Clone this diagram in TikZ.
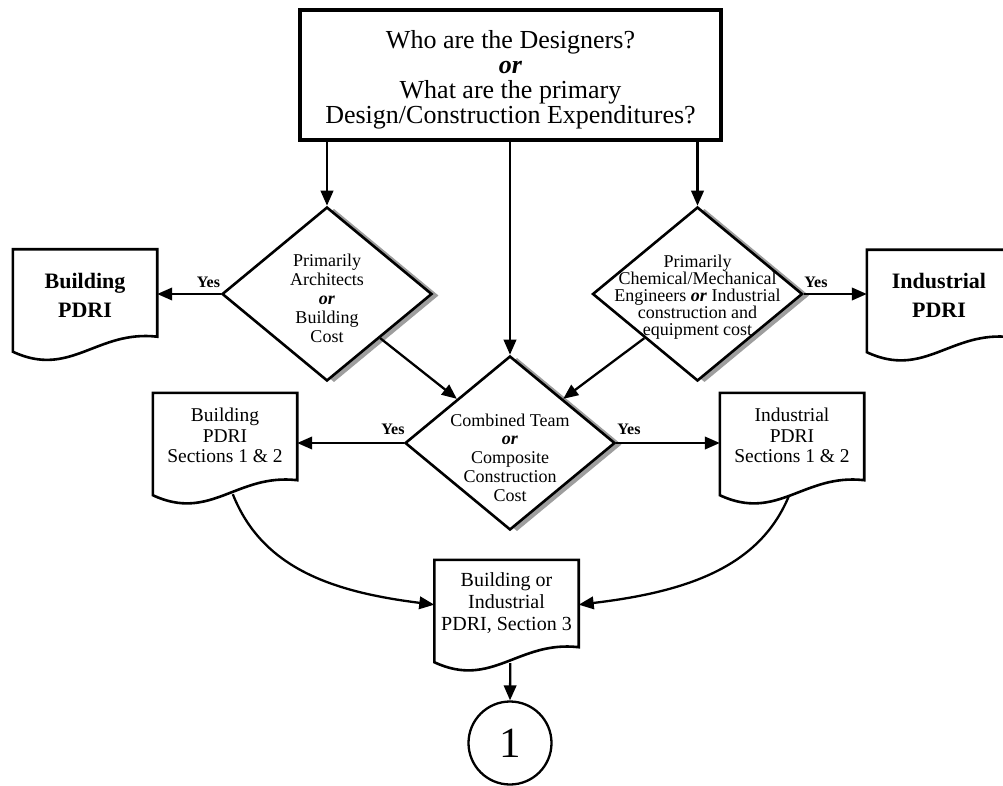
\documentclass[tikz,border=0pt]{standalone}
\usepackage{fontspec}
\setmainfont{Liberation Serif}
\usetikzlibrary{arrows.meta,shapes.geometric,shadows,calc}

\tikzset{
  flowline/.style={line width=2.3pt,-{Triangle[length=15pt,width=12.5pt]}},
  questionbox/.style={draw,line width=3.8pt,minimum width=421.5pt,minimum height=130.5pt,inner sep=0pt},
  questiontext/.style={align=center,inner sep=0pt,font=\fontsize{26}{25}\selectfont},
  decision/.style={diamond,draw,line width=2.6pt,fill=white,minimum width=210pt,minimum height=174pt,inner sep=0pt,
    drop shadow={shadow xshift=7pt,shadow yshift=-1.5pt,fill=black!38,opacity=1}},
  dtext/.style={align=center,inner sep=0pt,font=\fontsize{18}{19}\selectfont},
  docframe/.style={minimum width=144pt,minimum height=102pt,inner sep=0pt},
  doctext/.style={align=center,inner sep=0pt,font=\fontsize{19.5}{20.5}\selectfont},
  docbold/.style={align=center,inner sep=0pt,font=\bfseries\fontsize{22}{29}\selectfont},
  yeslabel/.style={font=\bfseries\fontsize{16}{16}\selectfont,inner sep=0pt},
  docline/.style={line width=2.6pt,line join=miter},
  connector/.style={circle,draw,line width=2.3pt,minimum size=83pt,inner sep=0pt,font=\fontsize{43}{43}\selectfont}
}

% bold italic "or" used between alternatives
\newcommand\orword{\textbf{\textit{or}}}

% document symbol: straight top and sides, wavy bottom edge
\newcommand\docoutline[1]{%
  \draw[docline] (#1.north west) -- (#1.south west)
    .. controls ($(#1.south west)+(57.6,27)$) and ($(#1.south west)+(84,-22)$)
    .. ($(#1.south east)+(0,-15)$) -- (#1.north east) -- cycle;}

\begin{document}
\begin{tikzpicture}[x=1pt,y=-1pt]
\useasboundingbox (0,0) rectangle (1003,786);
\clip (0,0) rectangle (1003,786);

% top question
\node[questionbox] (top) at (510.5,75) {};
\node[questiontext] (qtext) at (510.5,79.5)
  {Who are the Designers?\\ \orword\\ What are the primary\\ Design/Construction Expenditures?};

% decisions
\node[decision] (d1) at (327,294) {};
\node[decision] (d2) at (697.5,294) {};
\node[decision] (d3) at (510,443) {};
\node[dtext] (t1) at (327,298) {Primarily\\Architects\\\orword\\Building\\Cost};
\node[dtext,font=\fontsize{18}{17}\selectfont] (t2) at (697.5,297)
  {Primarily\\Chemical/Mechanical\\Engineers \orword{} Industrial\\construction and\\equipment cost};
\node[dtext,font=\fontsize{18}{18.7}\selectfont] (t3) at (510,457.5)
  {Combined Team\\\orword\\Composite\\Construction\\Cost};

% documents
\node[docframe] (bpf) at (85,300.5) {};
\node[docbold] (bp) at (85,295) {Building\\PDRI};
\node[docframe] (ipf) at (939,301) {};
\node[docbold] (ip) at (939,295) {Industrial\\PDRI};
\node[docframe] (bsf) at (225,444) {};
\node[doctext] (bs) at (225,435.5) {Building\\PDRI\\Sections 1 \& 2};
\node[docframe] (isf) at (792,444) {};
\node[doctext] (is) at (792,435.5) {Industrial\\PDRI\\Sections 1 \& 2};
\node[docframe] (s3f) at (506.5,611) {};
\node[doctext,font=\fontsize{20}{22}\selectfont] (s3) at (506.5,603) {Building or\\Industrial\\PDRI, Section 3};
\docoutline{bpf}
\docoutline{ipf}
\docoutline{bsf}
\docoutline{isf}
\docoutline{s3f}

% off-page connector
\node[connector] (c1) at (510,743) {1};

% Yes labels
\node[yeslabel] (y1) at (208.5,282) {Yes};
\node[yeslabel] (y2) at (816,282) {Yes};
\node[yeslabel] (y3) at (393,429) {Yes};
\node[yeslabel] (y4) at (629,429) {Yes};

% connectors
\draw[flowline] (top.south -| d1.north) -- (d1.north);
\draw[flowline] (top.south -| d3.north) -- (d3.north);
\draw[flowline] (top.south -| d2.north) -- (d2.north);
\draw[flowline] (d1.west) -- (d1.west -| bpf.east);
\draw[flowline] (d2.east) -- (d2.east -| ipf.west);
\draw[flowline] (d3.west) -- (d3.west -| bsf.east);
\draw[flowline] (d3.east) -- (d3.east -| isf.west);
\draw[flowline] ($(d1.east)!0.5!(d1.south)$) -- ($(d3.north)!0.5!(d3.west)$);
\draw[flowline] ($(d2.west)!0.5!(d2.south)$) -- ($(d3.north)!0.5!(d3.east)$);

\coordinate (bsout) at ($(bsf.south west)+(80,-1)$);
\coordinate (isout) at ($(isf.south west)+(69,1)$);
\coordinate (s3out) at ($(s3f.south west)+(76,1)$);
\draw[flowline] (bsout) .. controls ($(bsout)+(29,73)$) and ($(s3f.175)+(-104,-13)$) .. (s3f.175);
\draw[flowline] (isout) .. controls ($(isout)+(-29,70)$) and ($(s3f.5)+(110,-13)$) .. (s3f.5);
\draw[flowline] (s3out) -- (c1.north);
\end{tikzpicture}
\end{document}
